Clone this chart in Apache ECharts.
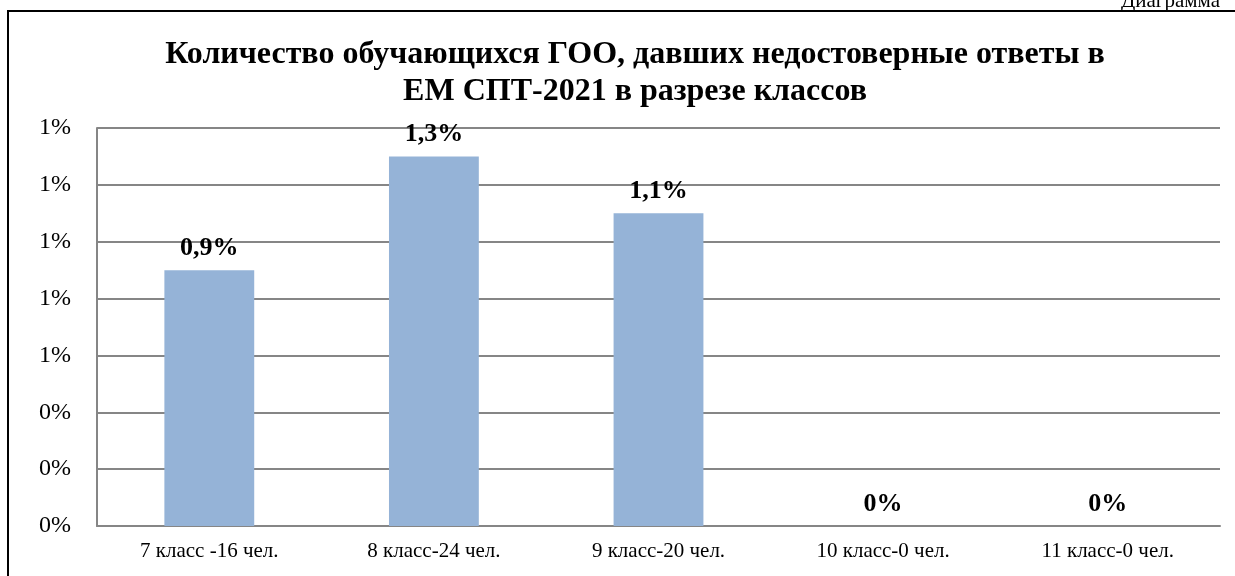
<!DOCTYPE html>
<html>
<head>
<meta charset="utf-8">
<script src="https://cdn.jsdelivr.net/npm/echarts@6/dist/echarts.min.js"></script>
<style>
  html, body { margin: 0; padding: 0; background: #fff; }
  #chart { width: 1235px; height: 576px; }
</style>
</head>
<body>
<div id="chart"></div>
<script>
const categories = [
  "7 класс -16 чел.",
  "8 класс-24 чел.",
  "9 класс-20 чел.",
  "10 класс-0 чел.",
  "11 класс-0 чел.",
];
// доля обучающихся, %
const values = [0.9, 1.3, 1.1, 0, 0];
const titleText = "Количество обучающихся ГОО, давших недостоверные ответы в\nЕМ СПТ-2021 в разрезе классов";

const serif = '"Liberation Serif", "Times New Roman", serif';
const chart = echarts.init(document.getElementById("chart"));

chart.setOption({
  animation: false,
  title: {
    text: titleText,
    left: 630,
    top: 31,
    textAlign: "center",
    textStyle: {
      fontFamily: serif,
      fontWeight: "bold",
      fontSize: 32,
      lineHeight: 37,
      color: "#000",
    },
  },
  graphic: [
    {
      type: "rect",
      shape: { x: 8, y: 11, width: 1240, height: 600 },
      style: { fill: "none", stroke: "#000", lineWidth: 2 },
    },
    {
      type: "text",
      right: 15,
      top: -9,
      style: { text: "Диаграмма", font: "21px " + serif, fill: "#000" },
    },
  ],
  grid: { left: 97, right: 15, top: 128, bottom: 50 },
  xAxis: {
    type: "category",
    data: categories,
    axisLine: { lineStyle: { color: "#868686", width: 2 } },
    axisTick: { show: false },
    axisLabel: {
      fontFamily: serif,
      fontSize: 21,
      color: "#000",
      margin: 15,
    },
  },
  yAxis: {
    type: "value",
    min: 0,
    max: 1.4,
    interval: 0.2,
    axisLine: { show: true, lineStyle: { color: "#868686", width: 2 } },
    axisTick: { show: false },
    splitLine: { lineStyle: { color: "#868686", width: 2 } },
    axisLabel: {
      fontFamily: serif,
      fontSize: 24,
      color: "#000",
      margin: 26,
      formatter: (v) => Math.round(v) + "%",
    },
  },
  series: [
    {
      type: "bar",
      data: values,
      barWidth: "40%",
      itemStyle: { color: "#95B3D7" },
      label: {
        show: true,
        position: "top",
        distance: 9,
        fontFamily: serif,
        fontWeight: "bold",
        fontSize: 26,
        color: "#000",
        formatter: (p) => (p.value === 0 ? "0%" : String(p.value).replace(".", ",") + "%"),
      },
    },
  ],
});
</script>
</body>
</html>
